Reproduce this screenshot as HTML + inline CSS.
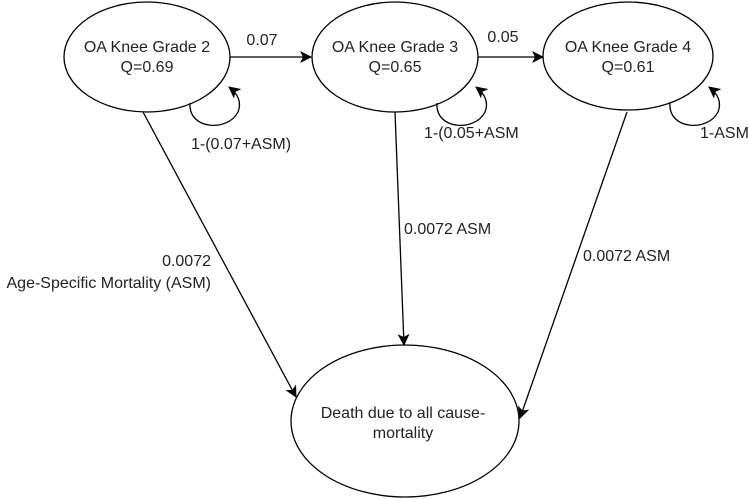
<!DOCTYPE html>
<html><head><meta charset="utf-8"><style>html,body{margin:0;padding:0;background:#fff}svg{display:block}text{font-family:"Liberation Sans",Arial,sans-serif;font-size:16px;fill:#222}</style></head>
<body>
<svg width="749" height="499" viewBox="0 0 749 499">
<defs><marker id="a" markerWidth="12" markerHeight="12" refX="11" refY="6" orient="auto" markerUnits="userSpaceOnUse"><path d="M0,0 L12,6 L0,12 L3,6 z" fill="#000"/></marker></defs>
<g fill="#fff" stroke="#000" stroke-width="1.3">
<ellipse cx="147" cy="57" rx="83" ry="55"/>
<ellipse cx="395" cy="57" rx="83" ry="55"/>
<ellipse cx="628" cy="56" rx="85" ry="54"/>
<ellipse cx="405" cy="421" rx="114" ry="76"/>
</g>
<g fill="none" stroke="#000" stroke-width="1.3">
<line x1="230" y1="57" x2="311" y2="57" marker-end="url(#a)"/>
<line x1="478" y1="57" x2="543" y2="57" marker-end="url(#a)"/>
<path d="M190,103 C188,130 228,132 238,112 C242,102 238,94 229,87" marker-end="url(#a)"/>
<path d="M437,103 C435,130 475,132 485,112 C489,102 485,94 476,87" marker-end="url(#a)"/>
<path d="M670,103 C668,130 708,132 718,112 C722,102 718,94 709,87" marker-end="url(#a)"/>
<line x1="143" y1="112" x2="296" y2="397" marker-end="url(#a)"/>
<line x1="395" y1="112" x2="404" y2="345" marker-end="url(#a)"/>
<line x1="627" y1="112" x2="520" y2="418" marker-end="url(#a)"/>
</g>
<g text-anchor="middle">
<text x="147" y="52">OA Knee Grade 2</text><text x="147" y="72">Q=0.69</text>
<text x="395" y="52">OA Knee Grade 3</text><text x="395" y="72">Q=0.65</text>
<text x="628" y="52">OA Knee Grade 4</text><text x="628" y="72">Q=0.61</text>
<text x="403" y="418">Death due to all cause-</text><text x="403" y="438">mortality</text>
<text x="262" y="45">0.07</text>
<text x="503" y="42">0.05</text>
</g>
<text x="191" y="149">1-(0.07+ASM)</text>
<text x="424" y="138">1-(0.05+ASM</text>
<text x="700" y="138">1-ASM</text>
<text x="404" y="234">0.0072 ASM</text>
<text x="583" y="261">0.0072 ASM</text>
<g text-anchor="end">
<text x="211" y="266">0.0072</text>
<text x="211" y="288">Age-Specific Mortality (ASM)</text>
</g>
</svg>
</body></html>
